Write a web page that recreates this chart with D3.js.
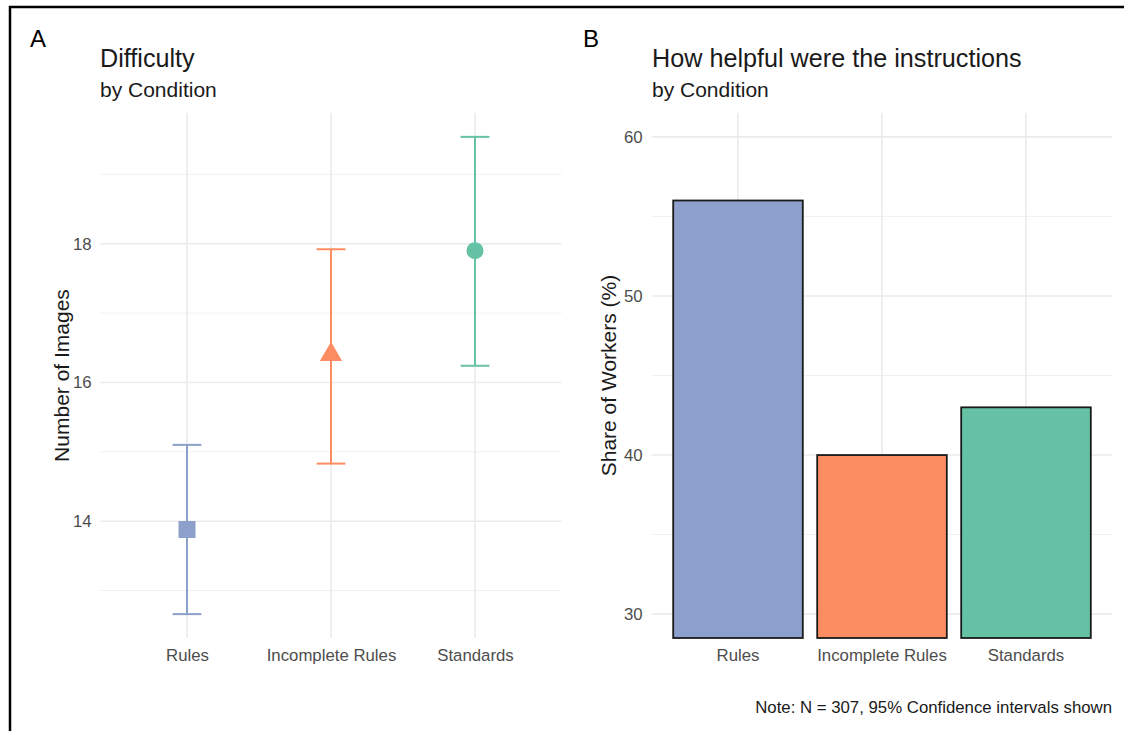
<!DOCTYPE html>
<html>
<head>
<meta charset="utf-8">
<script src="https://cdn.jsdelivr.net/npm/d3@7"></script>
<style>
  body { margin: 0; background: #fff; }
  svg text { font-family: "Liberation Sans", Arial, Helvetica, sans-serif; }
</style>
</head>
<body>
<script>
// categories and colours
const conditions = ["Rules", "Incomplete Rules", "Standards"];
const condColors = ["#8DA0CB", "#FC8D62", "#66C2A5"];

// panel A: mean number of images with 95% CI
const diffMean  = [13.88, 16.40, 17.90];
const diffLower = [12.66, 14.83, 16.24];
const diffUpper = [15.10, 17.92, 19.54];
const diffTicks = [14, 16, 18];

// panel B: share of workers finding instructions helpful
const helpShare = [56, 40, 43];
const helpLimits = [30, 60];
const helpTicks = [30, 40, 50, 60];

var svg = d3.select("body").append("svg")
  .attr("width", 1124)
  .attr("height", 731);

// frame
svg.append("path")
  .attr("d", "M10,731 L10,7 L1124,7")
  .attr("fill", "none")
  .attr("stroke", "#000")
  .attr("stroke-width", 2.5);

const panelTop = 113, panelBottom = 638;

function expand(lo, hi) {
  const pad = (hi - lo) * 0.05;
  return [lo - pad, hi + pad];
}

function drawGrid(g, x, y, ticks, left, right) {
  const step = ticks[1] - ticks[0];
  const dom = y.domain();
  const minor = [];
  for (let v = ticks[0] - step / 2; v <= dom[1]; v += step) {
    if (v >= dom[0]) minor.push(v);
  }
  g.selectAll(".minor").data(minor).enter().append("line")
    .attr("x1", left).attr("x2", right)
    .attr("y1", d => y(d)).attr("y2", d => y(d))
    .attr("stroke", "#F0F0F0").attr("stroke-width", 1);
  g.selectAll(".major").data(ticks).enter().append("line")
    .attr("x1", left).attr("x2", right)
    .attr("y1", d => y(d)).attr("y2", d => y(d))
    .attr("stroke", "#EBEBEB").attr("stroke-width", 1.6);
  g.selectAll(".vgrid").data(conditions).enter().append("line")
    .attr("x1", d => x(d)).attr("x2", d => x(d))
    .attr("y1", panelTop).attr("y2", panelBottom)
    .attr("stroke", "#EBEBEB").attr("stroke-width", 1.6);
}

function drawAxes(g, x, y, ticks, left, labelX, label) {
  g.append("g")
    .attr("transform", "translate(" + left + ",0)")
    .call(d3.axisLeft(y).tickValues(ticks).tickSize(0).tickPadding(9))
    .call(a => a.select(".domain").remove())
    .selectAll("text")
    .attr("fill", "#4D4D4D")
    .style("font-size", "16.8px");
  g.append("g")
    .attr("transform", "translate(0," + panelBottom + ")")
    .call(d3.axisBottom(x).tickSize(0).tickPadding(11))
    .call(a => a.select(".domain").remove())
    .selectAll("text")
    .attr("fill", "#4D4D4D")
    .style("font-size", "16.8px");
  g.append("text")
    .attr("transform", "translate(" + labelX + "," + (panelTop + panelBottom) / 2 + ") rotate(-90)")
    .attr("text-anchor", "middle")
    .attr("fill", "#1A1A1A")
    .style("font-size", "21px")
    .text(label);
}

function titles(g, tag, tagX, tx, title) {
  g.append("text").attr("x", tagX).attr("y", 47)
    .attr("fill", "#000").style("font-size", "24px").text(tag);
  g.append("text").attr("x", tx).attr("y", 67)
    .attr("fill", "#1A1A1A").style("font-size", "25.2px").text(title);
  g.append("text").attr("x", tx).attr("y", 97)
    .attr("fill", "#1A1A1A").style("font-size", "21px").text("by Condition");
}

// ---------- panel A ----------
const aLeft = 100.6, aRight = 561.4;
var gA = svg.append("g");
const xA = d3.scalePoint().domain(conditions).range([aLeft, aRight]).padding(0.6);
const yA = d3.scaleLinear()
  .domain(expand(d3.min(diffLower), d3.max(diffUpper)))
  .range([panelBottom, panelTop]);

drawGrid(gA, xA, yA, diffTicks, aLeft, aRight);
drawAxes(gA, xA, yA, diffTicks, aLeft, 69, "Number of Images");
titles(gA, "A", 30, 100, "Difficulty");

const capW = xA.step() * 0.2;
const ciData = conditions.map((c, i) => ({
  cond: c, mean: diffMean[i], lo: diffLower[i], hi: diffUpper[i], color: condColors[i]
}));

var err = gA.selectAll(".err").data(ciData).enter().append("g");
err.append("line")
  .attr("x1", d => xA(d.cond)).attr("x2", d => xA(d.cond))
  .attr("y1", d => yA(d.lo)).attr("y2", d => yA(d.hi))
  .attr("stroke", d => d.color).attr("stroke-width", 2);
err.append("line")
  .attr("x1", d => xA(d.cond) - capW / 2).attr("x2", d => xA(d.cond) + capW / 2)
  .attr("y1", d => yA(d.hi)).attr("y2", d => yA(d.hi))
  .attr("stroke", d => d.color).attr("stroke-width", 2);
err.append("line")
  .attr("x1", d => xA(d.cond) - capW / 2).attr("x2", d => xA(d.cond) + capW / 2)
  .attr("y1", d => yA(d.lo)).attr("y2", d => yA(d.lo))
  .attr("stroke", d => d.color).attr("stroke-width", 2);

const shapes = [
  d3.symbol().type(d3.symbolSquare).size(289),
  d3.symbol().type(d3.symbolTriangle).size(215),
  d3.symbol().type(d3.symbolCircle).size(227)
];
gA.selectAll(".pt").data(ciData).enter().append("path")
  .attr("d", (d, i) => shapes[i]())
  .attr("transform", d => "translate(" + xA(d.cond) + "," + yA(d.mean) + ")")
  .attr("fill", d => d.color);

// ---------- panel B ----------
const bLeft = 651.6, bRight = 1112.4;
var gB = svg.append("g");
const xB = d3.scaleBand().domain(conditions).range([bLeft, bRight])
  .paddingInner(0.1).paddingOuter(0.15);
const xBc = d => xB(d) + xB.bandwidth() / 2;
const yB = d3.scaleLinear().domain(expand(helpLimits[0], helpLimits[1])).range([panelBottom, panelTop]);

drawGrid(gB, xBc, yB, helpTicks, bLeft, bRight);
drawAxes(gB, xB, yB, helpTicks, bLeft, 616, "Share of Workers (%)");
titles(gB, "B", 583, 652, "How helpful were the instructions");

gB.selectAll(".bar").data(helpShare).enter().append("rect")
  .attr("x", (d, i) => xB(conditions[i]))
  .attr("width", xB.bandwidth())
  .attr("y", d => yB(d))
  .attr("height", d => panelBottom - yB(d))
  .attr("fill", (d, i) => condColors[i])
  .attr("stroke", "#1A1A1A")
  .attr("stroke-width", 1.8);

svg.append("text")
  .attr("x", 1112).attr("y", 713)
  .attr("text-anchor", "end")
  .attr("fill", "#1A1A1A")
  .style("font-size", "16.8px")
  .text("Note: N = 307, 95% Confidence intervals shown");
</script>
</body>
</html>
